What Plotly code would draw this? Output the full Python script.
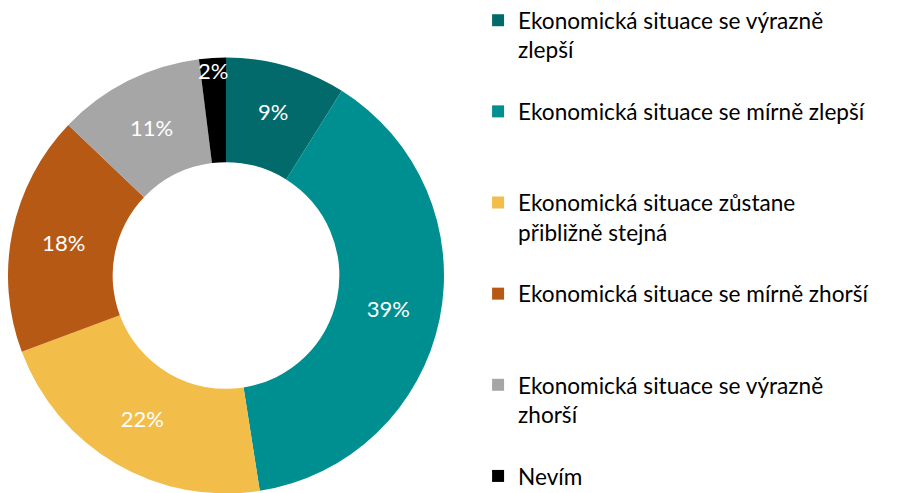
import plotly.graph_objects as go

labels = [
    "Ekonomická situace se výrazně<br>zlepší<br> ",
    "Ekonomická situace se mírně zlepší<br> <br> ",
    "Ekonomická situace zůstane<br>přibližně stejná<br> ",
    "Ekonomická situace se mírně zhorší<br> <br> ",
    "Ekonomická situace se výrazně<br>zhorší<br> ",
    "Nevím",
]
values = [9, 39, 22, 18, 11, 2]
colors = ["#026A6B", "#008F90", "#F2BD48", "#B65915", "#A6A6A6", "#000000"]
text_labels = [f"{v}%" for v in values]

fig = go.Figure(go.Pie(
    labels=labels,
    values=values,
    text=text_labels,
    textinfo="text",
    textposition="inside",
    insidetextorientation="horizontal",
    textfont=dict(family="Lato", size=22, color="white"),
    hole=0.52,
    sort=False,
    direction="clockwise",
    rotation=0,
    marker=dict(colors=colors, line=dict(width=0)),
    domain=dict(x=[0, 436 / 904], y=[0, 1]),
    hoverinfo="label+percent",
))

fig.update_layout(
    width=904, height=493,
    margin=dict(l=0, r=0, t=42, b=0, autoexpand=False),
    paper_bgcolor="white",
    plot_bgcolor="white",
    font=dict(family="Lato", size=22.6, color="#000000"),
    uniformtext=dict(minsize=22, mode="show"),
    legend=dict(
        x=0.52, y=1.113, xanchor="left", yanchor="top",
        valign="top",
        maxheight=600,
        font=dict(family="Lato", size=22.6, color="#000000"),
        itemclick=False,
    ),
    showlegend=True,
)

fig.write_html("out.html")
